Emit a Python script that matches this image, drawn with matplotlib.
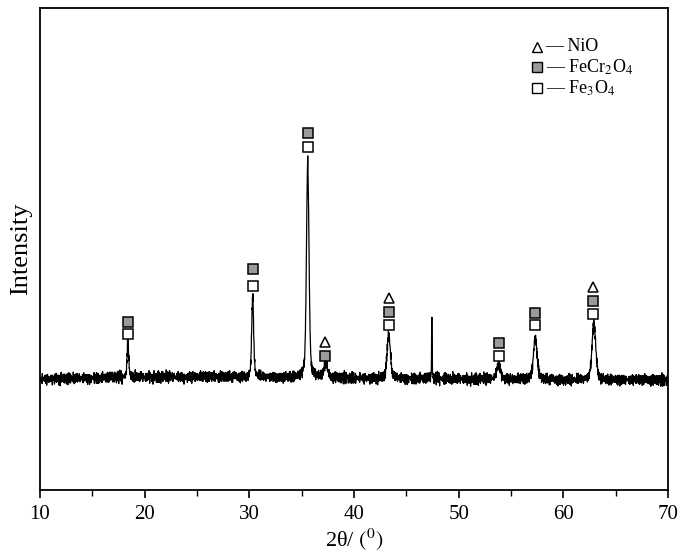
import numpy as np
import matplotlib
matplotlib.use("Agg")
import matplotlib.pyplot as plt
from matplotlib.ticker import MultipleLocator

# ---- data ----
peak_pos    = [18.40, 30.32, 35.58, 37.30, 43.32, 47.44, 53.82, 57.32, 62.92]
peak_height = [37, 80, 218, 14, 45, 66, 15, 43, 57]
peak_fwhm   = [0.18, 0.22, 0.28, 0.40, 0.36, 0.06, 0.45, 0.40, 0.42]
baseline_x  = [10, 20, 30, 40, 50, 60, 70]
baseline_y  = [111, 113, 113, 112, 111, 110, 110]
noise_a = [2, -3, 1, 4, -2, 0, -4, 3, -1, 2, -3, 5, -1, 0, 3, -4, 1, -2, 4, -3,
           0, 2, -5, 1, 3, -2, 0, 4, -3, 1, -1, 3, -4, 2, 0, -2, 3]
noise_b = [-1, 2, 0, -2, 3, -1, 1, -3, 2, 0, -2, 1, 3, -1, -3, 2, 0, 1, -2, 3,
           -1, 0, 2, -3, 1, -1, 2, 0, -2, 3, -1, 1, -3, 2, 0, -1, 2, -2, 1, 0, -2]

# diffraction-line markers: (2theta, vertical position)
nio_x = [37.25, 43.30, 62.85]
nio_y = [148, 192, 203]
fecr_x = [18.40, 30.32, 35.58, 37.25, 43.30, 53.82, 57.30, 62.85]
fecr_y = [168, 221, 357, 134, 178, 147, 177, 189]
fe3o4_x = [18.40, 30.32, 35.58, 43.30, 53.82, 57.30, 62.85]
fe3o4_y = [156, 204, 343, 165, 134, 165, 176]

xticks = [10, 20, 30, 40, 50, 60, 70]

# ---- build pattern ----
two_theta = np.arange(10.0, 70.0001, 0.02)
base = np.interp(two_theta, baseline_x, baseline_y)
na = np.array(noise_a, float)
nb = np.array(noise_b, float)
idx = np.arange(two_theta.size)
noise = 0.9 * (na[idx % na.size] + nb[idx % nb.size])
inten = base + noise
for p, h, w in zip(peak_pos, peak_height, peak_fwhm):
    g = np.exp(-4 * np.log(2) * ((two_theta - p) / w) ** 2)
    l = 1 / (1 + 4 * ((two_theta - p) / w) ** 2)
    inten = inten + h * (0.6 * g + 0.4 * l)

plt.rcParams['font.family'] = ['Liberation Serif', 'DejaVu Serif']
plt.rcParams['mathtext.fontset'] = 'stix'

fig = plt.figure(figsize=(6.85, 5.53), dpi=100)
ax = fig.add_axes([40 / 685, 1 - 490 / 553, 628 / 685, 482 / 553])
ax.plot(two_theta, inten, color='black', lw=0.9)

ms = 6.5
ax.plot(nio_x, nio_y, ls='none', marker='^', ms=ms, mfc='white', mec='black', mew=1.1)
ax.plot(fecr_x, fecr_y, ls='none', marker='s', ms=ms, mfc='#9a9a9a', mec='black', mew=1.1)
ax.plot(fe3o4_x, fe3o4_y, ls='none', marker='s', ms=ms, mfc='white', mec='black', mew=1.1)

ax.set_xlim(10, 70)
ax.set_ylim(0, 482)
ax.set_xticks(xticks)
ax.xaxis.set_minor_locator(MultipleLocator(5))
ax.tick_params(axis='x', which='major', direction='out', length=6, width=1.2, labelsize=15, pad=5)
ax.tick_params(axis='x', which='minor', direction='out', length=4, width=1.0)
ax.set_yticks([])
for s in ax.spines.values():
    s.set_linewidth(1.3)

ax.set_xlabel('2θ/ $(^{0})$', fontsize=16, labelpad=1)
ax.set_ylabel('Intensity', fontsize=19, labelpad=6)

# legend (manual, in axes fraction)
leg_rows = [('^', 'white', 'NiO'),
            ('s', '#9a9a9a', 'FeCr$_2$O$_4$'),
            ('s', 'white', 'Fe$_3$O$_4$')]
ly = [0.920, 0.878, 0.834]
for (m, fc, lab), yy in zip(leg_rows, ly):
    ax.plot([0.792], [yy], transform=ax.transAxes, marker=m, ms=6.5, mfc=fc,
            mec='black', mew=1.0, ls='none', clip_on=False)
    ax.text(0.805, yy, '— ' + lab, transform=ax.transAxes, fontsize=13,
            va='center', ha='left')

fig.savefig('out.png', dpi=100)
